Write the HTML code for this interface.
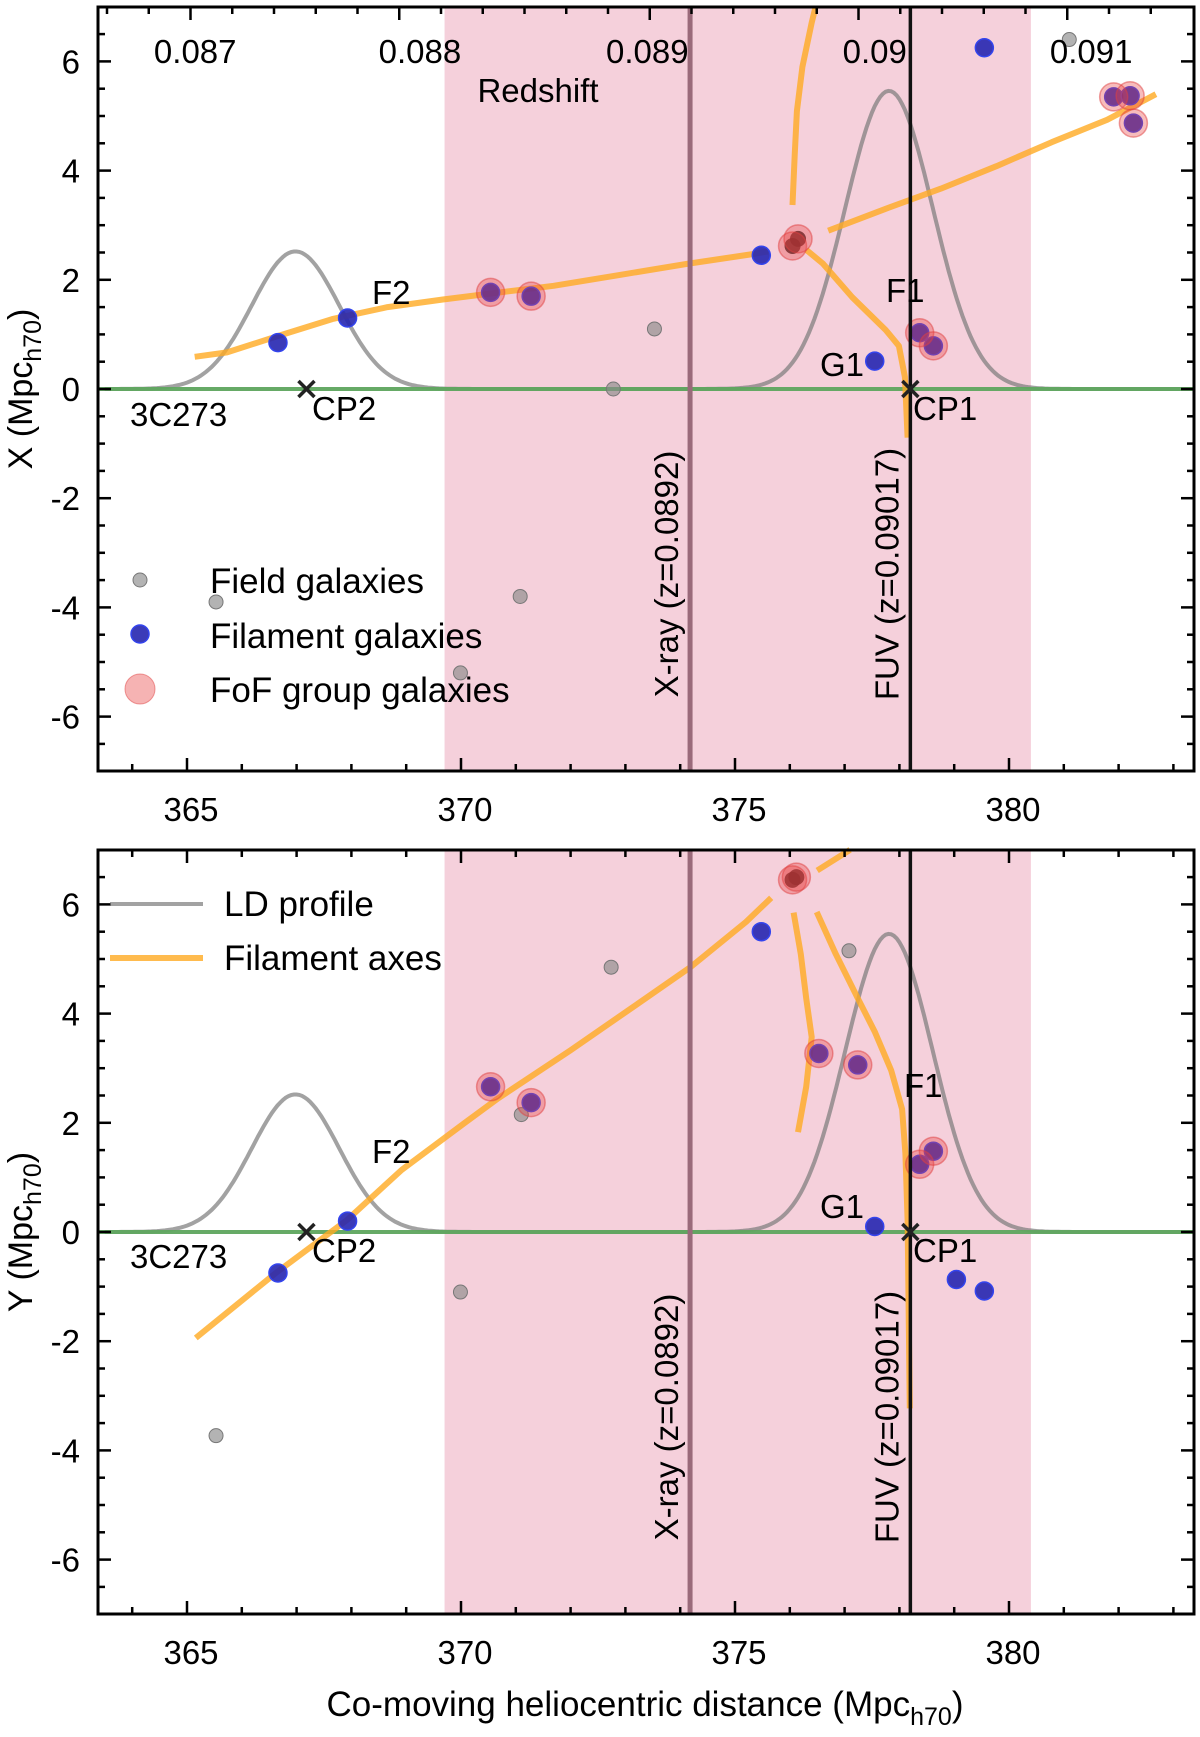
<!DOCTYPE html>
<html><head><meta charset="utf-8">
<style>
html,body{margin:0;padding:0;background:#fff;}
svg{display:block;font-family:"Liberation Sans",Arial,sans-serif;}
</style></head>
<body>
<svg id="chart" width="1200" height="1737" viewBox="0 0 1200 1737" xmlns="http://www.w3.org/2000/svg"></svg>
<script>
// ---- data ----
const xTicksMajor = [365, 370, 375, 380];
const yTicksMajor = [-6, -4, -2, 0, 2, 4, 6];
const redshiftLabels = ["0.087", "0.088", "0.089", "0.09", "0.091"];
const redshiftLabelPos = [365.15, 369.25, 373.4, 377.55, 381.5];
const pinkBand = [369.7, 380.4];
const xrayPos = [374.18];
const fuvPos = [378.2];
const ldCenters = [366.98, 377.81];
const ldAmps = [2.52, 5.46];
const ldSigmas = [0.8, 0.8];

// top panel (X)
const topFieldX = [372.78, 373.53, 365.53, 371.08, 369.99, 381.1];
const topFieldY = [0, 1.1, -3.9, -3.8, -5.2, 6.4];
const topFilX = [366.66, 367.93, 370.54, 371.28, 375.48, 377.55, 378.37, 378.62, 379.55, 381.91, 382.21, 382.27];
const topFilY = [0.85, 1.3, 1.77, 1.70, 2.45, 0.51, 1.03, 0.79, 6.25, 5.35, 5.37, 4.87];
const topGroupX = [370.54, 371.28, 376.05, 376.15, 378.37, 378.62, 381.91, 382.21, 382.27];
const topGroupY = [1.77, 1.70, 2.62, 2.75, 1.03, 0.79, 5.35, 5.37, 4.87];
const topDarkX = [376.05, 376.15];
const topDarkY = [2.62, 2.75];
const topAxis1X = [365.14, 365.73, 366.66, 367.65, 368.66, 369.67, 370.47, 371.69, 372.9, 374.11, 375.32, 375.6];
const topAxis1Y = [0.59, 0.67, 0.97, 1.28, 1.5, 1.64, 1.74, 1.89, 2.09, 2.29, 2.47, 2.52];
const topAxis2X = [376.7, 377.75, 378.76, 379.77, 380.78, 381.79, 382.68];
const topAxis2Y = [2.9, 3.3, 3.67, 4.08, 4.52, 4.93, 5.4];
const topAxis3X = [376.05, 376.09, 376.13, 376.23, 376.4, 376.47];
const topAxis3Y = [3.37, 4.28, 5.09, 5.9, 6.71, 7.0];
const topAxis4X = [376.3, 376.6, 377.14, 377.75, 377.99, 378.1, 378.15];
const topAxis4Y = [2.55, 2.3, 1.68, 1.08, 0.79, 0.22, -0.89];

// bottom panel (Y)
const botFieldX = [372.74, 377.08, 371.1, 369.99, 365.53];
const botFieldY = [4.85, 5.15, 2.15, -1.1, -3.73];
const botFilX = [366.66, 367.93, 370.54, 371.28, 375.48, 376.53, 377.24, 377.55, 378.37, 378.62, 379.04, 379.55];
const botFilY = [-0.75, 0.2, 2.66, 2.37, 5.5, 3.27, 3.06, 0.1, 1.24, 1.48, -0.87, -1.08];
const botGroupX = [370.54, 371.28, 376.05, 376.12, 376.53, 377.24, 378.37, 378.62];
const botGroupY = [2.66, 2.37, 6.45, 6.5, 3.27, 3.06, 1.24, 1.48];
const botDarkX = [376.05, 376.12];
const botDarkY = [6.45, 6.5];
const botAxis1X = [365.16, 366.62, 367.92, 368.92, 370.07, 370.68, 372.0, 373.14, 374.2, 375.2, 375.66];
const botAxis1Y = [-1.94, -0.75, 0.22, 1.14, 2.0, 2.45, 3.33, 4.12, 4.86, 5.68, 6.12];
const botAxis2X = [376.5, 377.1];
const botAxis2Y = [6.62, 7.0];
const botAxis3X = [376.07, 376.2, 376.3, 376.4, 376.3, 376.15];
const botAxis3Y = [5.85, 5.09, 4.28, 3.57, 2.66, 1.83];
const botAxis4X = [376.49, 376.84, 377.24, 377.55, 377.85, 378.05, 378.11, 378.15, 378.19];
const botAxis4Y = [5.86, 5.09, 4.28, 3.67, 2.96, 2.25, 1.44, 0.22, -3.23];

// ---- layout ----
const L = 98, R = 1194;
const panels = [{top: 7, bottom: 771, zero: 389, name: "x-panel"}, {top: 850, bottom: 1614, zero: 1232, name: "y-panel"}];
const XS = 54.8, YS = 54.6;
function sx(v){ return 187 + (v - 365) * XS; }
function syf(p){ return v => p.zero - v * YS; }

const NS = "http://www.w3.org/2000/svg";
const svg = document.getElementById("chart");
function el(tag, attrs, parent){
  const e = document.createElementNS(NS, tag);
  for (const k in attrs) e.setAttribute(k, attrs[k]);
  (parent || svg).appendChild(e);
  return e;
}
function txt(s, attrs, parent){ const t = el("text", attrs, parent); t.textContent = s; return t; }
function subTitle(t, main){
  t.appendChild(document.createTextNode(main + " (Mpc"));
  const s1 = el("tspan", {"font-size": 25, dy: 9}, t); s1.textContent = "h70";
  const s2 = el("tspan", {dy: -9}, t); s2.textContent = ")";
}
function poly(xs, ys, sy){ return xs.map((x,i)=>sx(x).toFixed(1)+","+sy(ys[i]).toFixed(1)).join(" "); }

function drawPanel(p, d){
  const sy = syf(p);
  const g = el("g", {});
  
  
  const band = el("rect", {x: sx(pinkBand[0]), y: p.top, width: sx(pinkBand[1]) - sx(pinkBand[0]), height: p.bottom - p.top, fill: "#f5d0db"}, g);
  
  
  ldCenters.forEach((c, i) => {
    const xs = [], ys = [];
    for (let v = 363.5; v <= 383.38; v += 0.05){ xs.push(v); ys.push(ldAmps[i] * Math.exp(-0.5 * Math.pow((v - c) / ldSigmas[i], 2))); }
    const pl = el("polyline", {points: poly(xs, ys, sy), fill: "none", stroke: "#7a7a7a", "stroke-opacity": 0.7, "stroke-width": 4}, g);
    
    
  });
  const zl = el("line", {x1: L, x2: R, y1: sy(0), y2: sy(0), stroke: "#5cab5c", "stroke-opacity": 0.85, "stroke-width": 4}, g);
  
  
  d.axes.forEach((a, i) => {
    const pl = el("polyline", {points: poly(a[0], a[1], sy), fill: "none", stroke: "#ffaa22", "stroke-opacity": 0.8, "stroke-width": 6, "stroke-linejoin": "round"}, g);
    
    
  });
  d.fx.forEach((x, i) => {
    const c = el("circle", {cx: sx(x), cy: sy(d.fy[i]), r: 7, fill: "#8a8a8a", "fill-opacity": 0.65, stroke: "#777", "stroke-width": 1}, g);
    
    
  });
  d.bx.forEach((x, i) => {
    const c = el("circle", {cx: sx(x), cy: sy(d.by[i]), r: 9, fill: "#2626b0", "fill-opacity": 0.9, stroke: "#3344ee", "stroke-width": 1.5}, g);
    
    
  });
  d.dx.forEach((x, i) => {
    const c = el("circle", {cx: sx(x), cy: sy(d.dy[i]), r: 8, fill: "#3a2020", "fill-opacity": 0.85}, g);
    
    
  });
  d.gx.forEach((x, i) => {
    const c = el("circle", {cx: sx(x), cy: sy(d.gy[i]), r: 14, fill: "#e84040", "fill-opacity": 0.35, stroke: "#e04040", "stroke-opacity": 0.5, "stroke-width": 1.5}, g);
    
    
  });
  const xl = el("line", {x1: sx(xrayPos[0]), x2: sx(xrayPos[0]), y1: p.top, y2: p.bottom, stroke: "#9a6a7a", "stroke-width": 5}, g);
  
  
  const fl = el("line", {x1: sx(fuvPos[0]), x2: sx(fuvPos[0]), y1: p.top, y2: p.bottom, stroke: "#111", "stroke-width": 3.5}, g);
  
  
  const midY = p.top + 567;
  const xt = txt("X-ray (z=0.0892)", {x: 0, y: 0, "font-size": 33, "text-anchor": "middle", transform: `translate(${sx(xrayPos[0]) - 12},${midY}) rotate(-90)`}, g);
  
  
  const ft = txt("FUV (z=0.09017)", {x: 0, y: 0, "font-size": 33, "text-anchor": "middle", transform: `translate(${sx(fuvPos[0]) - 12},${midY}) rotate(-90)`}, g);
  
  
  [367.18, 378.2].forEach((x, i) => {
    const cx = sx(x), cy = sy(0);
    const cr = el("path", {d: `M${cx-8},${cy-8}L${cx+8},${cy+8}M${cx-8},${cy+8}L${cx+8},${cy-8}`, stroke: "#222", "stroke-width": 3.5}, g);
    
    
  });
  d.labels.forEach(l => {
    const t = txt(l[0], {x: l[1], y: l[2], "font-size": 33}, g);
    
    
  });
  const fr = el("rect", {x: L, y: p.top, width: R - L, height: p.bottom - p.top, fill: "none", stroke: "#000", "stroke-width": 3}, g);
  
  
  for (let v = 364; v <= 383; v++){
    const maj = xTicksMajor.includes(v);
    const len = maj ? 13 : 7;
    el("line", {x1: sx(v), x2: sx(v), y1: p.bottom, y2: p.bottom - len, stroke: "#000", "stroke-width": 2.5}, g);
    if (d.topTicks) el("line", {x1: sx(v), x2: sx(v), y1: p.top, y2: p.top + len, stroke: "#000", "stroke-width": 2.5}, g);
  }
  xTicksMajor.forEach(v => {
    const t = txt(String(v), {x: sx(v) + 4, y: p.bottom + 50, "font-size": 33, "text-anchor": "middle"}, g);
    
    
  });
  for (let v = -6.5; v <= 6.5; v += 0.5){
    const maj = Math.abs(v % 2) < 0.01;
    const len = maj ? 13 : 7;
    el("line", {x1: L, x2: L + len, y1: sy(v), y2: sy(v), stroke: "#000", "stroke-width": 2.5}, g);
    el("line", {x1: R, x2: R - len, y1: sy(v), y2: sy(v), stroke: "#000", "stroke-width": 2.5}, g);
  }
  yTicksMajor.forEach(v => {
    const t = txt(String(v), {x: 80, y: sy(v) + 12, "font-size": 33, "text-anchor": "end"}, g);
    
    
  });
  const yt = el("text", {x: 0, y: 0, "font-size": 34, "text-anchor": "middle", transform: `translate(32,${sy(0)}) rotate(-90)`}, g);
  subTitle(yt, d.ytitle);
  
  
  return {g, sy};
}

const topPanel = drawPanel(panels[0], {
  fx: topFieldX, fy: topFieldY, bx: topFilX, by: topFilY, gx: topGroupX, gy: topGroupY, dx: topDarkX, dy: topDarkY,
  axes: [[topAxis1X, topAxis1Y], [topAxis2X, topAxis2Y], [topAxis3X, topAxis3Y], [topAxis4X, topAxis4Y]],
  labels: [["F2", 372, 304, "f2-label"], ["F1", 886, 302, "f1-label"], ["G1", 820, 376, "g1-label"], ["3C273", 130, 426, "3c273-label"], ["CP2", 312, 420, "cp2-label"], ["CP1", 913, 420, "cp1-label"]],
  ytitle: "X", topTicks: false
});
const botPanel = drawPanel(panels[1], {
  fx: botFieldX, fy: botFieldY, bx: botFilX, by: botFilY, gx: botGroupX, gy: botGroupY, dx: botDarkX, dy: botDarkY,
  axes: [[botAxis1X, botAxis1Y], [botAxis2X, botAxis2Y], [botAxis3X, botAxis3Y], [botAxis4X, botAxis4Y]],
  labels: [["F2", 372, 1163, "f2-label"], ["F1", 904, 1097, "f1-label"], ["G1", 820, 1218, "g1-label"], ["3C273", 130, 1268, "3c273-label"], ["CP2", 312, 1262, "cp2-label"], ["CP1", 913, 1262, "cp1-label"]],
  ytitle: "Y", topTicks: true
});

for (let k = 0; k <= 25; k++){
  const x = 107 + k * 41.75;
  const maj = [2, 7, 13, 18, 23].includes(k);
  el("line", {x1: x, x2: x, y1: 7, y2: 7 + (maj ? 13 : 7), stroke: "#000", "stroke-width": 2.5});
}
redshiftLabels.forEach((s, i) => {
  const t = txt(s, {x: sx(redshiftLabelPos[i]), y: 63, "font-size": 33, "text-anchor": "middle"});
  
  
});
const rs = txt("Redshift", {x: 538, y: 102, "font-size": 33, "text-anchor": "middle"});



const lg1 = el("g", {});


el("circle", {cx: 140, cy: 580, r: 7, fill: "#8a8a8a", "fill-opacity": 0.65, stroke: "#777"}, lg1);
txt("Field galaxies", {x: 210, y: 593, "font-size": 35}, lg1);
el("circle", {cx: 140, cy: 634, r: 9, fill: "#2626b0", "fill-opacity": 0.9, stroke: "#3344ee", "stroke-width": 1.5}, lg1);
txt("Filament galaxies", {x: 210, y: 648, "font-size": 35}, lg1);
el("circle", {cx: 140, cy: 689, r: 15, fill: "#e84040", "fill-opacity": 0.4, stroke: "#e04040", "stroke-opacity": 0.5}, lg1);
txt("FoF group galaxies", {x: 210, y: 702, "font-size": 35}, lg1);

const lg2 = el("g", {});


el("line", {x1: 110, x2: 203, y1: 904, y2: 904, stroke: "#7a7a7a", "stroke-opacity": 0.7, "stroke-width": 4}, lg2);
txt("LD profile", {x: 224, y: 916, "font-size": 35}, lg2);
el("line", {x1: 110, x2: 203, y1: 958, y2: 958, stroke: "#ffaa22", "stroke-opacity": 0.8, "stroke-width": 6}, lg2);
txt("Filament axes", {x: 224, y: 970, "font-size": 35}, lg2);

const xtitle = el("text", {x: 645, y: 1716, "font-size": 35, "text-anchor": "middle"});
subTitle(xtitle, "Co-moving heliocentric distance");


</script>
</body></html>
